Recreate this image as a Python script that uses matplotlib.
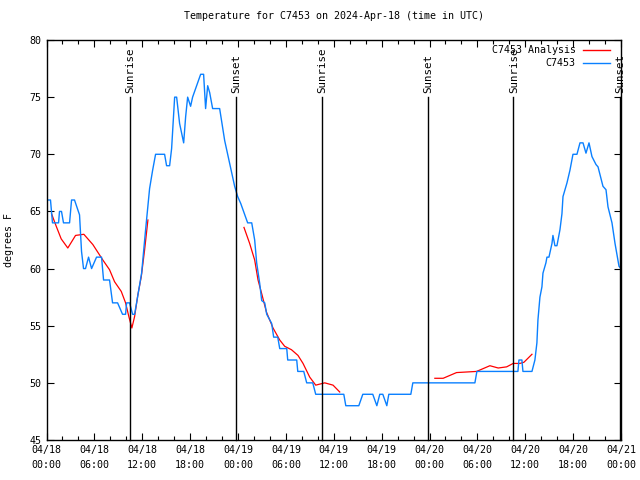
import matplotlib
matplotlib.use("Agg")
from matplotlib import pyplot as plt

# hours since 2024-04-18 00:00 UTC
obs_h = [0.00, 0.50, 0.75, 1.51, 1.63, 1.88, 2.13, 2.89, 3.14, 3.51, 4.14, 4.39, 4.64, 4.89,
         5.27, 5.65, 6.27, 6.90, 7.15, 7.90, 8.28, 8.91, 9.53, 9.91, 10.04, 10.41, 10.79,
         11.04, 11.29, 11.92, 12.42, 12.92, 13.30, 13.67, 14.80, 15.05, 15.43, 15.68, 16.06,
         16.31, 16.68, 17.19, 17.44, 17.69, 18.06, 18.31, 18.82, 19.32, 19.69, 19.94, 20.20,
         20.45, 20.82, 21.70, 22.33, 22.96, 23.58, 23.96, 24.34, 25.21, 25.72, 26.09, 26.34,
         26.72, 26.97, 27.35, 27.60, 28.22, 28.47, 28.98, 29.23, 30.11, 30.23, 31.36, 31.49,
         32.24, 32.61, 33.37, 33.74, 37.26, 37.51, 39.14, 39.64, 40.89, 41.40, 41.77, 42.15,
         42.65, 42.90, 45.66, 45.91, 53.69, 53.94, 59.08, 59.21, 59.58, 59.71, 60.84, 61.21,
         61.46, 61.59, 61.84, 62.09, 62.22, 62.59, 62.72, 62.97, 63.35, 63.47, 63.72, 63.97,
         64.35, 64.60, 64.73, 65.23, 65.60, 65.98, 66.48, 66.86, 67.24, 67.61, 67.99, 68.36,
         68.87, 69.12, 69.74, 70.12, 70.37, 70.87, 71.25, 71.75, 72.00]
obs_t = [66, 66, 64, 64, 65, 65, 64, 64, 66, 66, 64.7, 61.5, 60, 60,
         61, 60, 61, 61, 59, 59, 57, 57, 56, 56, 57, 57, 56,
         56, 57, 59.6, 63.4, 67, 68.6, 70, 70, 69, 69, 70.5, 75,
         75, 72.7, 71, 73.3, 75, 74.2, 75, 76, 77, 77, 74, 76,
         75.4, 74, 74, 71.2, 69.2, 67.2, 66.3, 65.7, 64, 64, 62.5, 60.5,
         58.7, 57.2, 57, 56, 55.2, 54, 54, 53, 53, 52, 52, 51,
         51, 50, 50, 49, 49, 48, 48, 49, 49, 48, 49, 49,
         48, 49, 49, 50, 50, 51, 51, 52, 52, 51, 51, 52,
         53.5, 55.5, 57.5, 58.4, 59.6, 60.5, 61, 61, 62.2, 62.9, 62, 62,
         63.4, 64.8, 66.3, 67.5, 68.6, 70, 70, 71, 71, 70.1, 71, 69.8,
         69.1, 68.9, 67.2, 66.9, 65.4, 64, 62.2, 60.2, 60]

an1_h = [0.63, 1.22, 1.84, 2.67, 3.64, 4.68, 5.81, 7.06, 7.90, 8.53, 9.37, 9.91, 10.32,
         10.70, 11.04, 11.45, 11.88, 12.29, 12.71]
an1_t = [64.8, 63.7, 62.6, 61.8, 62.9, 63.0, 62.1, 60.75, 59.9, 58.85, 58.0, 57.0, 55.8,
         54.8, 55.8, 57.7, 59.3, 61.6, 64.25]
an2_h = [24.75, 25.46, 26.09, 26.51, 27.01, 27.56, 28.39, 29.23, 29.85, 30.70, 31.52,
         32.15, 32.99, 33.74, 34.87, 35.91, 36.75]
an2_t = [63.6, 62.2, 60.75, 59.0, 57.7, 56.2, 54.8, 53.75, 53.2, 52.9, 52.4,
         51.7, 50.5, 49.8, 50.0, 49.8, 49.2]
an3_h = [48.67, 49.71, 51.39, 53.90, 55.57, 56.61, 57.67, 58.49, 59.33, 59.83, 60.84]
an3_t = [50.4, 50.4, 50.9, 51.0, 51.5, 51.3, 51.4, 51.7, 51.7, 51.8, 52.5]

sun_h = [10.41, 23.71, 34.50, 47.79, 58.46, 71.85]
sun_lbl = ["Sunrise", "Sunset", "Sunrise", "Sunset", "Sunrise", "Sunset"]

tick_h = list(range(0, 73, 6))
tick_lbl = ["04/18\n00:00", "04/18\n06:00", "04/18\n12:00", "04/18\n18:00",
            "04/19\n00:00", "04/19\n06:00", "04/19\n12:00", "04/19\n18:00",
            "04/20\n00:00", "04/20\n06:00", "04/20\n12:00", "04/20\n18:00",
            "04/21\n00:00"]

plt.rcParams['font.family'] = ['DejaVu Sans Mono']
fs = 7.2
red = '#ff0000'
blue = '#0a80ff'

fig = plt.figure(figsize=(6.4, 4.8), dpi=100)
ax = fig.add_axes([46.5/640, 40/480, 574.5/640, 400/480])

for hh, tt in [(an1_h, an1_t), (an2_h, an2_t), (an3_h, an3_t)]:
    ax.plot(hh, tt, color=red, lw=0.9)
ax.plot(obs_h, obs_t, color=blue, lw=1.0)

for h, s in zip(sun_h, sun_lbl):
    ax.plot([h, h], [45, 75], color='black', lw=1.0, clip_on=False)
    ax.text(h + 0.1, 75.4, s, rotation=90, ha='center', va='bottom', fontsize=fs + 0.6)

# legend (gnuplot style, right-aligned text)
ax.text(0.921, 0.975, "C7453 Analysis", transform=ax.transAxes, ha='right', va='center', fontsize=fs)
ax.plot([0.934, 0.981], [0.975, 0.975], transform=ax.transAxes, color=red, lw=1.0)
ax.text(0.921, 0.9425, "C7453", transform=ax.transAxes, ha='right', va='center', fontsize=fs)
ax.plot([0.934, 0.981], [0.9425, 0.9425], transform=ax.transAxes, color=blue, lw=1.0)

ax.set_xlim(0, 72)
ax.set_ylim(45, 80)
ax.set_xticks(tick_h)
ax.set_xticklabels(tick_lbl, fontsize=fs, linespacing=1.6)
ax.set_xticks(range(0, 73, 2), minor=True)
ax.set_yticks(range(45, 81, 5))
ax.tick_params(axis='y', labelsize=fs)
ax.tick_params(which='both', direction='in', top=True, right=True, width=0.8)
ax.tick_params(which='major', length=5)
ax.tick_params(which='minor', length=3)
for sp in ax.spines.values():
    sp.set_linewidth(1.0)

ax.set_ylabel("degrees F", fontsize=fs, labelpad=11)
ax.set_title("Temperature for C7453 on 2024-Apr-18 (time in UTC)", fontsize=fs, pad=15)

fig.savefig("out.png", dpi=100)
